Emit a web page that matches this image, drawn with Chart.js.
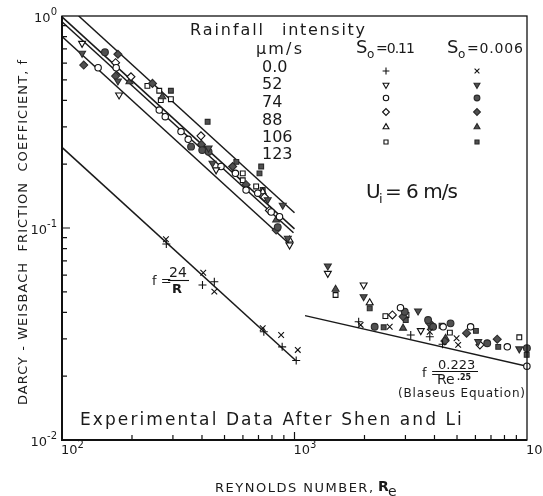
<!DOCTYPE html>
<html><head><meta charset="utf-8">
<script src="https://cdn.jsdelivr.net/npm/chart.js@4.4.0/dist/chart.umd.min.js"></script>
<style>html,body{margin:0;padding:0;background:#fff}</style>
</head><body>
<canvas id="c" width="543" height="496"></canvas>
<script>
// ---------------- DATA ----------------
// S0 = 0.11 (open symbols) and S0 = 0.006 (filled symbols); rainfall intensity in um/s
const rainfallLabels = ['0.0', '52', '74', '88', '106', '123'];

// 0.0 um/s, S0 = 0.11 (+)
const re_plus = [281, 402, 452, 738, 885, 1017, 1888, 3162, 3819, 4333];
const f_plus  = [0.0841, 0.0538, 0.0558, 0.0324, 0.0275, 0.0237, 0.0361, 0.0313, 0.0307, 0.0283];
// 0.0 um/s, S0 = 0.006 (x)
const re_cross = [280, 405, 452, 730, 876, 1033, 1925, 2567, 3819, 4977, 5057];
const f_cross  = [0.0885, 0.0615, 0.0501, 0.0337, 0.0313, 0.0266, 0.0349, 0.0342, 0.0324, 0.0302, 0.0281];
// 52 um/s
const re_52_open = [122, 176, 460, 952, 1391, 1983, 3493];
const f_52_open  = [0.743, 0.424, 0.188, 0.0831, 0.0611, 0.0538, 0.0328];
const re_52_fill = [122, 174, 427, 444, 767, 890, 936, 1391, 1983, 3400, 6168, 9265];
const f_52_fill  = [0.667, 0.494, 0.238, 0.202, 0.136, 0.128, 0.0894, 0.0662, 0.0474, 0.0406, 0.0291, 0.0269];
// 74 um/s
const re_74_open = [143, 171, 262, 278, 325, 349, 483, 557, 619, 695, 794, 862, 2856, 4359, 5720, 8227, 9990];
const f_74_open  = [0.570, 0.570, 0.360, 0.335, 0.285, 0.262, 0.195, 0.181, 0.151, 0.146, 0.119, 0.113, 0.0421, 0.0342, 0.0342, 0.0275, 0.0223];
const re_74_fill = [153, 359, 401, 427, 847, 2212, 2980, 3755, 3946, 4690, 6744, 9990];
const f_74_fill  = [0.674, 0.242, 0.233, 0.229, 0.101, 0.0342, 0.0403, 0.0368, 0.0342, 0.0355, 0.0286, 0.0271];
// 88 um/s
const re_88_open = [170, 198, 396, 743, 780, 2637, 6273];
const f_88_open  = [0.602, 0.517, 0.272, 0.140, 0.121, 0.0389, 0.0281];
const re_88_fill = [124, 174, 170, 245, 398, 542, 619, 834, 2930, 3819, 4433, 5497, 7447];
const f_88_fill  = [0.587, 0.660, 0.521, 0.481, 0.248, 0.195, 0.160, 0.0978, 0.0382, 0.0355, 0.0293, 0.0319, 0.0299];
// 106 um/s
const re_106_open = [730, 952, 2106];
const f_106_open  = [0.148, 0.0878, 0.0444];
const re_106_fill = [195, 270, 834, 1502, 2930, 4464];
const f_106_fill  = [0.490, 0.416, 0.109, 0.0514, 0.0337, 0.0302];
// 123 um/s
const re_123_open = [233, 262, 266, 294, 599, 599, 684, 1502, 2460, 3031, 4658, 9265];
const f_123_open  = [0.468, 0.444, 0.401, 0.405, 0.181, 0.168, 0.157, 0.0483, 0.0384, 0.0389, 0.0321, 0.0305];
const re_123_fill = [294, 423, 562, 719, 707, 730, 2106, 2418, 3010, 3857, 4290, 6029, 7521, 9970];
const f_123_fill  = [0.444, 0.317, 0.205, 0.195, 0.181, 0.151, 0.0418, 0.0340, 0.0368, 0.0342, 0.0346, 0.0327, 0.0275, 0.0252];

// fitted / theoretical lines (end points)
const re_laminar = [100, 1010];   // f = 24/R
const f_laminar  = [0.24, 0.02376];
const re_blasius = [1110, 10000]; // f = 0.223/Re^0.25
const f_blasius  = [0.0386, 0.0223];
const re_fit1 = [118, 1000]; const f_fit1 = [1.0, 0.118];
const re_fit2 = [100, 1000]; const f_fit2 = [0.99, 0.099];
const re_fit3 = [100, 990];  const f_fit3 = [0.94, 0.0949];
const re_fit4 = [100, 970];  const f_fit4 = [0.80, 0.0825];

// axis ticks
const xMajor = [100, 1000, 10000]; const xExp = ['2', '3', '4'];
const yMajor = [1, 0.1, 0.01];     const yExp = ['0', '-1', '-2'];
const minorMult = [2, 3, 4, 5, 6, 7, 8, 9];

// ---------------- CHART ----------------
const FONT = '"DejaVu Sans", "Liberation Sans", sans-serif';
const INK = '#1a1a1a';
const pts = (a, b) => a.map((v, i) => ({x: v, y: b[i]}));

const markerSpecs = [
  {key:'plus',  re:re_plus,   f:f_plus,   style:'cross',    rot:0,   r:4,   filled:false, col:0, row:0},
  {key:'cross', re:re_cross,  f:f_cross,  style:'crossRot', rot:0,   r:4,   filled:false, col:1, row:0},
  {key:'52o',   re:re_52_open,f:f_52_open,style:'triangle', rot:180, r:4,   filled:false, col:0, row:1},
  {key:'52f',   re:re_52_fill,f:f_52_fill,style:'triangle', rot:180, r:4,   filled:true,  col:1, row:1},
  {key:'74o',   re:re_74_open,f:f_74_open,style:'circle',   rot:0,   r:3.2, filled:false, col:0, row:2},
  {key:'74f',   re:re_74_fill,f:f_74_fill,style:'circle',   rot:0,   r:3.4, filled:true,  col:1, row:2},
  {key:'88o',   re:re_88_open,f:f_88_open,style:'rectRot',  rot:0,   r:4,   filled:false, col:0, row:3},
  {key:'88f',   re:re_88_fill,f:f_88_fill,style:'rectRot',  rot:0,   r:4,   filled:true,  col:1, row:3},
  {key:'106o',  re:re_106_open,f:f_106_open,style:'triangle',rot:0,  r:4,   filled:false, col:0, row:4},
  {key:'106f',  re:re_106_fill,f:f_106_fill,style:'triangle',rot:0,  r:4,   filled:true,  col:1, row:4},
  {key:'123o',  re:re_123_open,f:f_123_open,style:'rect',   rot:0,   r:3.4, filled:false, col:0, row:5},
  {key:'123f',  re:re_123_fill,f:f_123_fill,style:'rect',   rot:0,   r:3.4, filled:true,  col:1, row:5},
];

const datasets = [];
[[re_laminar,f_laminar],[re_blasius,f_blasius],[re_fit1,f_fit1],[re_fit2,f_fit2],[re_fit3,f_fit3],[re_fit4,f_fit4]].forEach(([a,b]) => {
  datasets.push({type:'line', data:pts(a,b), borderColor:INK, borderWidth:1.5, pointRadius:0, showLine:true, fill:false, order:2});
});
markerSpecs.forEach(s => {
  datasets.push({
    data: pts(s.re, s.f), showLine:false, clip:false, order:1,
    pointStyle: s.style, pointRotation: s.rot, pointRadius: s.r,
    pointBackgroundColor: s.filled ? '#505050' : '#ffffff',
    pointBorderColor: s.filled ? '#2a2a2a' : '#111111',
    pointBorderWidth: 1.1
  });
});

function setFont(ctx, size, weight) { ctx.font = (weight || '') + ' ' + size + 'px ' + FONT; }
function fitText(ctx, str, x, y, size, target, align) {
  setFont(ctx, size);
  try { ctx.letterSpacing = '0px'; } catch(e) {}
  let w = ctx.measureText(str).width;
  let sp = 0;
  if (target) sp = Math.max(-1, (target - w) / Math.max(1, str.length - 1));
  try { ctx.letterSpacing = sp.toFixed(2) + 'px'; } catch(e) {}
  ctx.textAlign = align || 'left';
  ctx.fillText(str, x, y);
  try { ctx.letterSpacing = '0px'; } catch(e) {}
}
function plain(ctx, str, x, y, size, align, weight) {
  setFont(ctx, size, weight); ctx.textAlign = align || 'left'; ctx.fillText(str, x, y);
  return ctx.measureText(str).width;
}
function drawMarker(ctx, s, x, y, r) {
  ctx.save();
  ctx.fillStyle = s.filled ? '#505050' : '#ffffff';
  ctx.strokeStyle = s.filled ? '#2a2a2a' : '#111111';
  ctx.lineWidth = 1.1;
  Chart.helpers.drawPoint(ctx, {pointStyle:s.style, rotation:s.rot, radius:r, borderWidth:1.1}, x, y);
  ctx.restore();
}

const decor = {
  id: 'decor',
  afterDraw(chart) {
    const ctx = chart.ctx, xs = chart.scales.x, ys = chart.scales.y, a = chart.chartArea;
    ctx.save();
    ctx.strokeStyle = '#111'; ctx.fillStyle = INK; ctx.textBaseline = 'alphabetic';
    // frame
    ctx.lineWidth = 1.3;
    ctx.strokeRect(a.left, a.top, a.right - a.left, a.bottom - a.top);
    ctx.lineWidth = 2;
    ctx.beginPath(); ctx.moveTo(a.left, a.top); ctx.lineTo(a.left, a.bottom); ctx.lineTo(a.right, a.bottom); ctx.stroke();
    // minor / major ticks (inward)
    ctx.lineWidth = 1.2;
    ctx.beginPath();
    [0.01, 0.1].forEach(d => minorMult.forEach(m => {
      const py = ys.getPixelForValue(d * m); ctx.moveTo(a.left, py); ctx.lineTo(a.left + 5, py);
    }));
    { const py = ys.getPixelForValue(0.1); ctx.moveTo(a.left, py); ctx.lineTo(a.left + 8, py); }
    [100, 1000].forEach(d => minorMult.forEach(m => {
      const px = xs.getPixelForValue(d * m); ctx.moveTo(px, a.bottom); ctx.lineTo(px, a.bottom - 5);
    }));
    { const px = xs.getPixelForValue(1000); ctx.moveTo(px, a.bottom); ctx.lineTo(px, a.bottom - 8); }
    ctx.stroke();
    // y tick labels
    yMajor.forEach((v, i) => {
      const py = ys.getPixelForValue(v);
      setFont(ctx, 10); const we = ctx.measureText(yExp[i]).width;
      setFont(ctx, 13); const wb = ctx.measureText('10').width;
      const x0 = a.left - 5 - we - wb;
      plain(ctx, '10', x0, py + 6, 13);
      plain(ctx, yExp[i], x0 + wb, py - 1, 10);
    });
    // x tick labels
    xMajor.forEach((v, i) => {
      const px = xs.getPixelForValue(v);
      const wb = plain(ctx, '10', px - 1, a.bottom + 14, 13);
      plain(ctx, xExp[i], px - 1 + wb, a.bottom + 8, 10);
    });
    // axis titles
    fitText(ctx, 'REYNOLDS NUMBER,', 215, 492, 13, 158);
    plain(ctx, 'R', 378, 491, 14, 'left', 'bold');
    plain(ctx, 'e', 388, 496, 14);
    ctx.save();
    ctx.translate(22, 233); ctx.rotate(-Math.PI / 2);
    fitText(ctx, 'DARCY - WEISBACH  FRICTION  COEFFICIENT, f', -172, 5, 13, 345);
    ctx.restore();
    // legend block
    fitText(ctx, 'Rainfall', 190, 35, 16, 73);
    fitText(ctx, 'intensity', 282, 35, 16, 83);
    fitText(ctx, 'μm/s', 256, 54, 16, 46);
    const numBase = [72, 89, 107, 125, 142, 159];
    rainfallLabels.forEach((t, i) => plain(ctx, t, 262, numBase[i], 16));
    // S0 headers
    plain(ctx, 'S', 356, 53, 18); plain(ctx, 'o', 367, 58, 12);
    fitText(ctx, '=0.11', 376, 53, 14, 37);
    plain(ctx, 'S', 447, 53, 18); plain(ctx, 'o', 458, 58, 12);
    fitText(ctx, '=0.006', 467, 53, 14, 56);
    const legRows = [71, 85, 98, 112, 127, 142];
    const legCols = [386, 477];
    markerSpecs.forEach(s => drawMarker(ctx, s, legCols[s.col], legRows[s.row], s.r * 0.85));
    // Ui = 6 m/s
    plain(ctx, 'U', 366, 198, 20); plain(ctx, 'i', 379, 203, 13);
    fitText(ctx, '= 6 m/s', 385, 198, 20, 70);
    // f = 24/R
    plain(ctx, 'f =', 152, 285, 13);
    plain(ctx, '24', 178, 277, 14, 'center');
    ctx.lineWidth = 1.1; ctx.beginPath(); ctx.moveTo(168, 280.5); ctx.lineTo(189, 280.5); ctx.stroke();
    plain(ctx, 'R', 177, 293, 13, 'center', 'bold');
    // Blasius
    plain(ctx, 'f =', 422, 377, 13);
    plain(ctx, '0.223', 438, 369, 13);
    ctx.beginPath(); ctx.moveTo(436, 371.5); ctx.lineTo(478, 371.5); ctx.stroke();
    plain(ctx, 'Re', 437, 384, 14);
    plain(ctx, '.25', 457, 380, 8, 'left', 'bold');
    fitText(ctx, '(Blaseus Equation)', 398, 397, 12, 127);
    // caption
    fitText(ctx, 'Experimental Data After Shen and Li', 80, 425, 17, 382);
    ctx.restore();
  }
};

new Chart(document.getElementById('c'), {
  type: 'scatter',
  data: { datasets },
  options: {
    responsive: false, animation: false, devicePixelRatio: 1,
    layout: { padding: { left: 62, right: 16, top: 16, bottom: 56 } },
    plugins: { legend: { display: false }, tooltip: { enabled: false } },
    scales: {
      x: { type: 'logarithmic', min: 100, max: 10000, display: false },
      y: { type: 'logarithmic', min: 0.01, max: 1, display: false }
    }
  },
  plugins: [decor]
});
</script>
</body></html>
